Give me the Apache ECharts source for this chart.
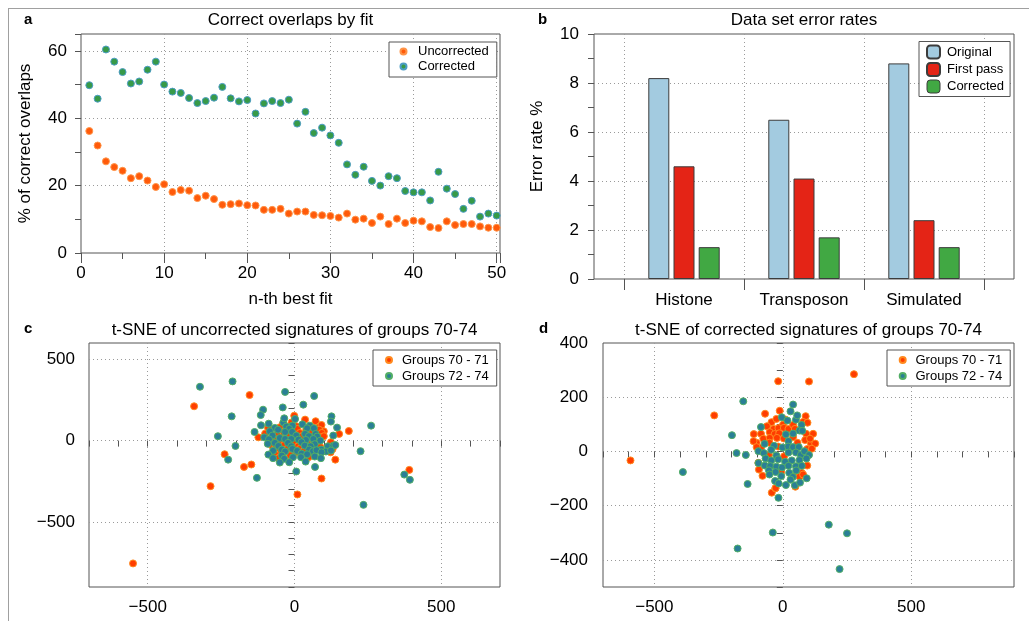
<!DOCTYPE html>
<html><head><meta charset="utf-8">
<script src="https://cdn.jsdelivr.net/npm/echarts@6/dist/echarts.min.js"></script>
<style>
html,body{margin:0;padding:0;background:#fff;}
#frame{position:absolute;left:8px;top:8px;width:1021px;height:613px;border-top:1px solid #a0a0a0;border-left:1px solid #a0a0a0;}
#chart{position:absolute;left:0;top:0;width:1029px;height:621px;}
</style></head><body>
<div id="frame"></div>
<div id="chart"></div>
<script>
const FONT = "'Liberation Sans', Arial, Helvetica, sans-serif";

// Panel a
const fitRank = [1,2,3,4,5,6,7,8,9,10,11,12,13,14,15,16,17,18,19,20,21,22,23,24,25,26,27,28,29,30,31,32,33,34,35,36,37,38,39,40,41,42,43,44,45,46,47,48,49,50];
const uncorrectedPct = [36.2,31.9,27.2,25.5,24.4,22.2,22.8,21.5,19.6,20.4,18.1,18.7,18.5,16.3,17.0,16.0,14.3,14.5,14.7,14.2,14.1,12.8,12.8,13.1,11.7,12.3,12.3,11.3,11.2,11.0,10.5,11.7,9.9,10.2,8.9,10.8,8.6,10.2,8.9,9.6,9.4,7.7,7.4,9.4,8.3,8.6,8.6,7.9,7.5,7.5];
const correctedPct = [49.8,45.8,60.4,56.8,53.7,50.3,50.9,54.4,56.8,50.0,47.9,47.5,46.0,44.5,45.1,46.1,49.3,45.9,45.0,45.4,41.4,44.4,45.1,44.5,45.5,38.4,41.9,35.6,37.2,34.9,32.7,26.3,23.2,25.6,21.4,20.0,22.8,22.2,18.4,18.0,18.0,15.6,24.1,19.1,17.5,13.1,15.5,10.8,11.7,11.1];

// Panel b
const datasets = ['Histone','Transposon','Simulated'];
const errOriginal = [8.2,6.5,8.8];
const errFirstPass = [4.6,4.1,2.4];
const errCorrected = [1.3,1.7,1.3];

// Panel c (uncorrected t-SNE)
const tsneUncorrG7071 = [[-1,153],[36,129],[72,119],[-10,112],[-39,104],[7,88],[86,88],[92,96],[-90,78],[-50,82],[10,72],[40,67],[100,57],[84,67],[-100,43],[-40,51],[18,47],[60,53],[93,47],[-59,37],[-17,35],[25,27],[84,22],[100,27],[-123,20],[-68,10],[-5,6],[55,0],[72,-6],[-84,-20],[-45,-10],[2,-14],[43,-14],[80,-20],[124,-10],[-76,-31],[-35,-27],[12,-35],[88,-39],[-67,-51],[-25,-51],[18,-51],[58,-45],[130,-51],[-52,-67],[-6,-65],[32,-63],[-67,-80],[-15,-90],[7,-72],[55,-80],[123,-72],[-55,-108],[48,-102],[139,-117],[-342,211],[-153,280],[185,59],[152,41],[-238,-84],[-172,-162],[-147,-147],[-286,-280],[92,-233],[10,-331],[391,-180],[-550,-755]];
const tsneUncorrG7274 = [[2,133],[-38,112],[-88,104],[-28,86],[-7,92],[27,100],[52,92],[-67,78],[-18,72],[43,76],[66,76],[145,80],[-136,53],[-84,57],[-56,67],[-32,53],[-8,53],[36,41],[72,41],[132,31],[-103,20],[-75,31],[-50,16],[6,31],[49,27],[77,25],[-87,8],[-32,10],[-11,10],[14,6],[39,4],[64,10],[88,0],[-67,-14],[-22,-14],[24,-10],[69,-22],[-91,-20],[-55,-33],[-11,-35],[35,-31],[55,-35],[114,-35],[132,-31],[-43,-55],[-7,-51],[50,-55],[91,-55],[139,-27],[-73,-63],[-32,-67],[9,-63],[63,-65],[75,-59],[107,-67],[124,-61],[-89,-86],[-43,-92],[24,-80],[43,-84],[92,-72],[-73,-108],[-35,-112],[-5,-102],[22,-102],[69,-98],[90,-108],[-50,-135],[-18,-133],[38,-129],[-322,331],[-211,364],[-32,299],[67,274],[30,221],[-40,204],[-107,190],[-115,157],[-214,149],[-35,137],[126,149],[124,117],[261,92],[-261,27],[-201,-33],[-226,-117],[-128,-229],[225,-65],[6,-190],[70,-162],[374,-209],[393,-241],[235,-395],[-114,94]];

// Panel d (corrected t-SNE)
const tsneCorrG7071 = [[277,285],[102,258],[-18,259],[-267,133],[-593,-33],[-43,-152],[-29,-136],[-69,139],[-12,150],[-44,108],[-25,120],[9,118],[89,130],[79,109],[1,99],[-62,93],[-36,83],[-17,86],[4,87],[22,83],[40,98],[47,83],[91,65],[118,65],[-113,64],[-85,65],[-51,71],[-32,64],[-14,67],[-76,47],[-51,50],[-23,50],[4,48],[40,53],[57,32],[87,42],[109,31],[126,29],[-102,32],[-52,32],[-18,18],[95,9],[113,10],[-85,13],[-54,-13],[5,-18],[95,-52],[-93,-67],[-6,-75],[54,-85],[74,-79],[-79,-90],[65,-93],[79,-85],[-28,-135],[49,-130],[-114,38],[-102,16],[-95,-42],[96,106],[106,47]];
const tsneCorrG7274 = [[-154,185],[40,173],[-198,60],[-180,-6],[-144,-13],[-389,-76],[-137,-120],[-17,-171],[179,-270],[250,-302],[-39,-299],[-176,-358],[221,-434],[30,148],[-4,126],[18,114],[51,117],[-85,90],[73,98],[65,77],[12,63],[40,66],[76,76],[22,38],[-71,28],[-34,21],[-1,15],[21,18],[40,16],[62,16],[-95,1],[-74,-6],[-45,6],[-25,-15],[22,-4],[51,-4],[70,-13],[84,1],[102,-13],[-67,-26],[-45,-33],[-18,-29],[35,-33],[9,-38],[65,-32],[92,-26],[-95,-43],[-70,-52],[-49,-54],[-25,-56],[-3,-59],[22,-53],[51,-55],[74,-53],[-54,-70],[-28,-76],[25,-79],[52,-70],[93,-99],[-52,-85],[-6,-91],[39,-94],[-30,-109],[-16,-118],[12,-124],[47,-125],[67,-115],[30,-104],[56,133]];

const AX = '#555';
const GRIDC = '#9a9a9a';
const labelFmt = step => v => (Math.abs(v % step) < 1e-9 ? (v < 0 ? '\u2212' + Math.abs(v) : String(v)) : '');
const lbl = (step, margin) => ({formatter: labelFmt(step), margin: margin, fontSize: 17, color: '#000', fontFamily: FONT});
const tick = len => ({show: true, length: len, lineStyle: {color: AX, width: 1}});
const minor = (n, len) => ({show: true, splitNumber: n, length: len, lineStyle: {color: AX, width: 1}});
const split = () => ({show: true, showMinLine: false, showMaxLine: false, lineStyle: {type: [1, 3], color: GRIDC, width: 1}});
const nameStyle = extra => Object.assign({fontSize: 17, color: '#000', fontFamily: FONT}, extra || {});
const gridBox = (l, t, w, h) => ({left: l, top: t, width: w, height: h, show: true, borderColor: AX, borderWidth: 1, backgroundColor: 'transparent', outerBoundsMode: 'none'});

const dotA1 = {color: '#ff5a0a', borderColor: '#ff9448', borderWidth: 1, opacity: 1};
const dotA2 = {color: '#379a48', borderColor: '#4c9cc4', borderWidth: 1, opacity: 1};
const dotO = {color: '#ff3d00', borderColor: '#ff8a1f', borderWidth: 1, opacity: 1};
const dotT = {color: '#2a7f96', borderColor: '#52ae66', borderWidth: 1, opacity: 1};
const barBorder = {borderColor: '#3c3c3c', borderWidth: 1, opacity: 1};

const titleStyle = {fontSize: 17, fontWeight: 'normal', color: '#000', fontFamily: FONT};
const letterStyle = {fontSize: 15, fontWeight: 'bold', color: '#000', fontFamily: FONT};

const legendBase = (left, top, pad, textPad, iw, ih, gap) => ({
  orient: 'vertical', left: left, top: top, padding: pad, itemGap: gap,
  itemWidth: iw, itemHeight: ih, selectedMode: false,
  backgroundColor: '#fff', borderColor: AX, borderWidth: 1, borderRadius: 0,
  textStyle: {fontSize: 13, color: '#000', fontFamily: FONT, padding: [0, 0, 0, textPad]}
});

const option = {
  animation: false,
  textStyle: {fontFamily: FONT},
  title: [
    {text: 'a', left: 24, top: 12, padding: 0, textStyle: letterStyle},
    {text: 'Correct overlaps by fit', left: 290.5, top: 12, padding: 0, textAlign: 'center', textStyle: titleStyle},
    {text: 'b', left: 538, top: 12, padding: 0, textStyle: letterStyle},
    {text: 'Data set error rates', left: 804, top: 12, padding: 0, textAlign: 'center', textStyle: titleStyle},
    {text: 'c', left: 24, top: 321, padding: 0, textStyle: letterStyle},
    {text: 't-SNE of uncorrected signatures of groups 70-74', left: 294.5, top: 322, padding: 0, textAlign: 'center', textStyle: titleStyle},
    {text: 'd', left: 539, top: 321, padding: 0, textStyle: letterStyle},
    {text: 't-SNE of corrected signatures of groups 70-74', left: 808.5, top: 322, padding: 0, textAlign: 'center', textStyle: titleStyle}
  ],
  grid: [
    gridBox(81, 34, 419, 219),
    gridBox(594, 34, 420, 245),
    {left: 624, top: 34, width: 360, height: 245, show: false, outerBoundsMode: 'none'},
    gridBox(89, 343, 411, 244),
    gridBox(603, 343, 411, 244)
  ],
  xAxis: [
    {gridIndex: 0, type: 'value', min: 0, max: 50.4, interval: 10,
     axisLine: {show: false}, axisTick: tick(10), minorTick: minor(2, 6),
     axisLabel: lbl(10, 12), splitLine: split(),
     name: 'n-th best fit', nameLocation: 'middle', nameGap: 38, nameTextStyle: nameStyle()},
    {gridIndex: 1, type: 'value', min: 0, max: 1, show: false},
    {gridIndex: 2, type: 'category', data: datasets, boundaryGap: true,
     axisLine: {show: false}, axisTick: tick(11),
     axisLabel: {margin: 13, fontSize: 17, color: '#000', fontFamily: FONT},
     splitLine: {show: true, lineStyle: {type: [1, 3], color: GRIDC, width: 1}}},
    {gridIndex: 3, type: 'value', min: -700, max: 700, splitNumber: 3, minInterval: 500, maxInterval: 500,
     axisLine: {show: false}, axisTick: tick(6), minorTick: minor(5, 6),
     axisLabel: lbl(500, 12), splitLine: split()},
    {gridIndex: 4, type: 'value', min: -700, max: 900, splitNumber: 3, minInterval: 500, maxInterval: 500,
     axisLine: {show: false}, axisTick: tick(6), minorTick: minor(5, 6),
     axisLabel: lbl(500, 12), splitLine: split()}
  ],
  yAxis: [
    {gridIndex: 0, type: 'value', min: 0, max: 65, interval: 20,
     axisLine: {show: false}, axisTick: tick(6), minorTick: minor(2, 6),
     axisLabel: lbl(20, 14), splitLine: split(),
     name: '% of correct overlaps', nameLocation: 'middle', nameGap: 47, nameTextStyle: nameStyle()},
    {gridIndex: 1, type: 'value', min: 0, max: 10, interval: 2,
     axisLine: {show: false}, axisTick: tick(6), minorTick: minor(2, 6),
     axisLabel: lbl(2, 15), splitLine: split(),
     name: 'Error rate %', nameLocation: 'middle', nameGap: 48, nameTextStyle: nameStyle({padding: [0, 0, 0, 20]})},
    {gridIndex: 2, type: 'value', min: 0, max: 10, show: false},
    {gridIndex: 3, type: 'value', min: -900, max: 600, splitNumber: 3, minInterval: 500, maxInterval: 500,
     axisLine: {show: false}, axisTick: tick(6), minorTick: minor(5, 6),
     axisLabel: lbl(500, 14), splitLine: split()},
    {gridIndex: 4, type: 'value', min: -500, max: 400, splitNumber: 5, minInterval: 200, maxInterval: 200,
     axisLine: {show: false}, axisTick: tick(6), minorTick: minor(2, 6),
     axisLabel: lbl(200, 15), splitLine: split()}
  ],
  legend: [
    Object.assign(legendBase(389, 42, [3, 8, 4, 10.5], 6.5, 6, 13, 2), {data: ['Uncorrected', 'Corrected']}),
    Object.assign(legendBase(919, 41.5, [3, 6, 3, 7], 2, 13, 13, 2.5), {
      icon: 'roundRect',
      data: ['Original', 'First pass',
        {name: 'Corrected', icon: 'roundRect', itemStyle: {color: '#41a843', borderColor: '#3c3c3c', borderWidth: 1, opacity: 1}}]
    }),
    Object.assign(legendBase(373, 350, [3.5, 8, 3.5, 12], 5, 6, 13, 3), {data: ['Groups 70 - 71', 'Groups 72 - 74']}),
    Object.assign(legendBase(887, 350, [3.5, 8, 3.5, 11.7], 4.8, 6, 13, 3), {data: ['Groups 70 - 71', 'Groups 72 - 74']})
  ],
  series: [
    {name: 'Uncorrected', type: 'scatter', xAxisIndex: 0, yAxisIndex: 0, symbol: 'circle', symbolSize: 7,
     itemStyle: dotA1, data: fitRank.map((r, i) => [r, uncorrectedPct[i]])},
    {name: 'Corrected', type: 'scatter', xAxisIndex: 0, yAxisIndex: 0, symbol: 'circle', symbolSize: 7,
     itemStyle: dotA2, data: fitRank.map((r, i) => [r, correctedPct[i]])},
    {name: 'Original', type: 'bar', xAxisIndex: 2, yAxisIndex: 2, barWidth: 21, barGap: '20%',
     itemStyle: Object.assign({color: '#a3cbe0'}, barBorder), data: errOriginal},
    {name: 'First pass', type: 'bar', xAxisIndex: 2, yAxisIndex: 2, barWidth: 21, barGap: '20%',
     itemStyle: Object.assign({color: '#e42416'}, barBorder), data: errFirstPass},
    {name: 'Corrected', type: 'bar', xAxisIndex: 2, yAxisIndex: 2, barWidth: 21, barGap: '20%',
     itemStyle: Object.assign({color: '#41a843'}, barBorder), data: errCorrected},
    {name: 'Groups 70 - 71', type: 'scatter', xAxisIndex: 3, yAxisIndex: 3, symbol: 'circle', symbolSize: 7,
     itemStyle: dotO, data: tsneUncorrG7071},
    {name: 'Groups 72 - 74', type: 'scatter', xAxisIndex: 3, yAxisIndex: 3, symbol: 'circle', symbolSize: 7,
     itemStyle: dotT, data: tsneUncorrG7274},
    {name: 'Groups 70 - 71', type: 'scatter', xAxisIndex: 4, yAxisIndex: 4, symbol: 'circle', symbolSize: 7,
     itemStyle: dotO, data: tsneCorrG7071},
    {name: 'Groups 72 - 74', type: 'scatter', xAxisIndex: 4, yAxisIndex: 4, symbol: 'circle', symbolSize: 7,
     itemStyle: dotT, data: tsneCorrG7274}
  ]
};

const chart = echarts.init(document.getElementById('chart'), null, {renderer: 'canvas'});
chart.setOption(option);
</script>
</body></html>
